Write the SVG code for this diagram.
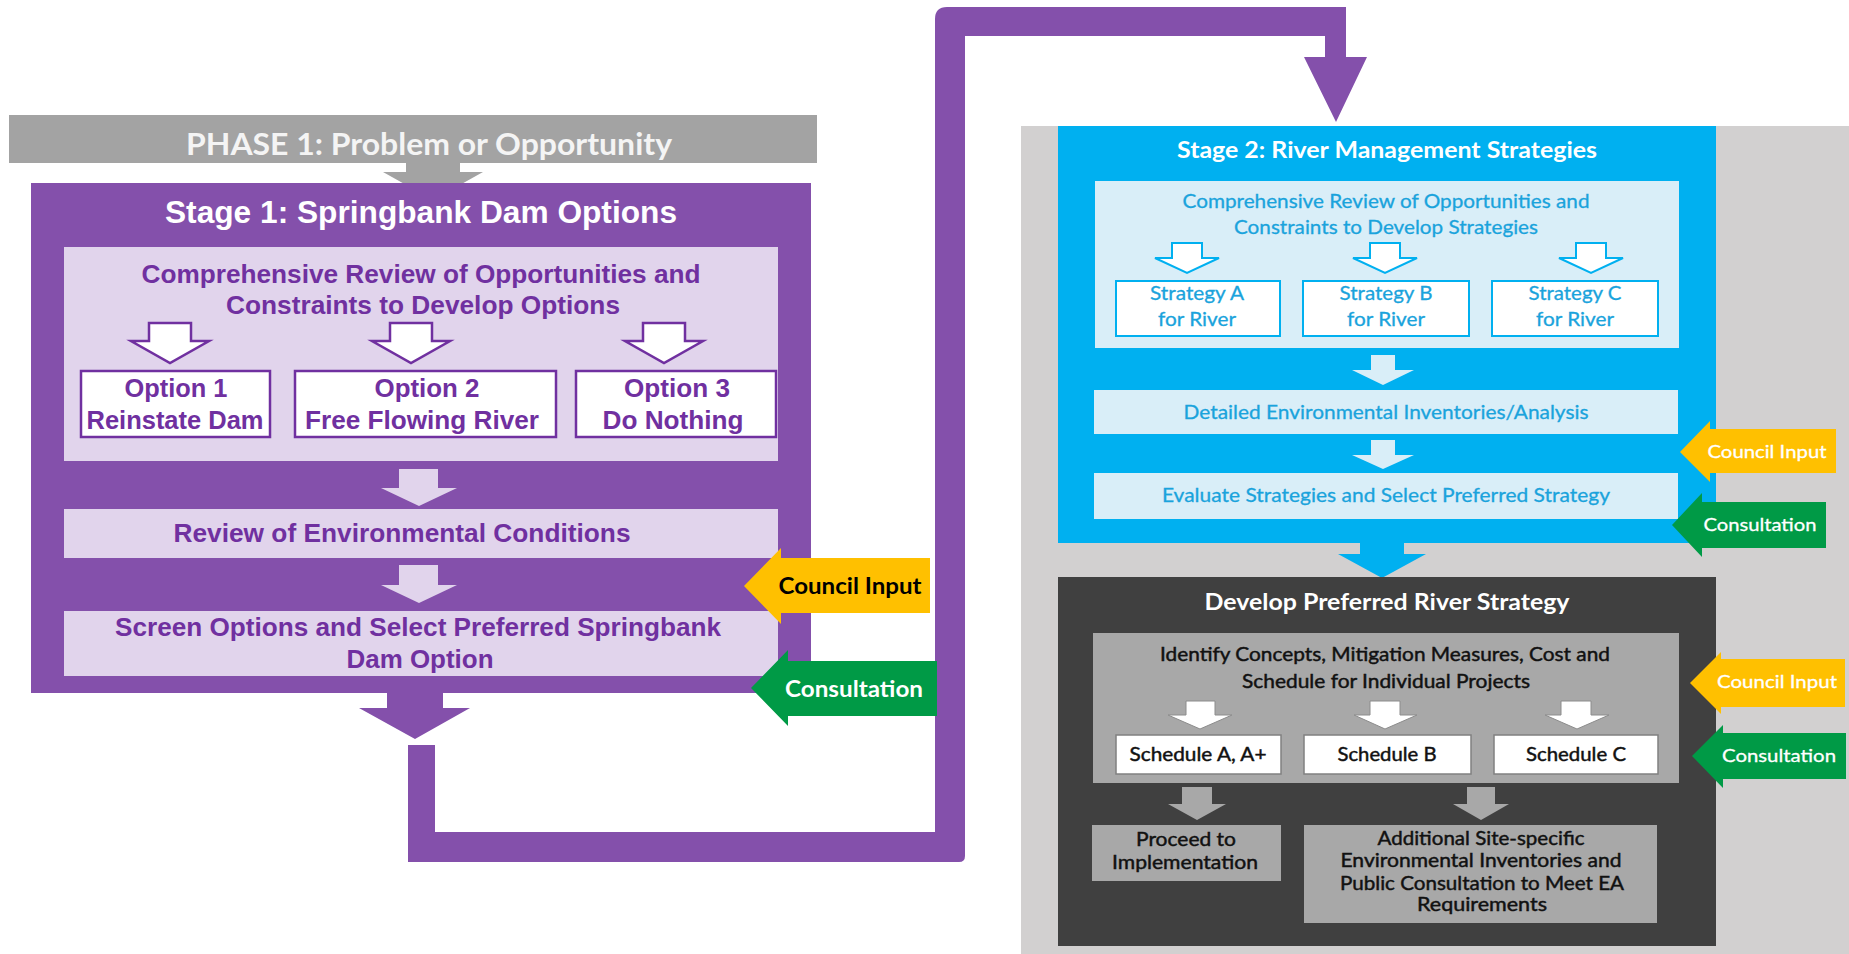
<svg xmlns="http://www.w3.org/2000/svg" width="1849" height="954" viewBox="0 0 1849 954">
<style>
.ar{font-family:"Liberation Sans",Arial,sans-serif;font-weight:bold;}
.ca{font-family:Lato,"Open Sans","Noto Sans",sans-serif;}
.b{font-weight:bold;}
.pt{fill:#7030A0;font-size:26px;}
.bt{fill:#1AA3DC;font-size:19px;stroke:#1AA3DC;stroke-width:0.3;}
.kt{fill:#111111;font-size:19px;stroke:#111111;stroke-width:0.45;}
.wt{fill:#FFFFFF;}
.ws{stroke:#FFFFFF;stroke-width:0.3;}
.purple{fill:#8450AB;}
.lav{fill:#E1D4EC;}
.optbox{fill:#FFFFFF;stroke:#7030A0;stroke-width:2.5;}
.optarr{fill:#FFFFFF;stroke:#7030A0;stroke-width:2.5;stroke-linejoin:miter;}
.blue{fill:#00B0F0;}
.lblue{fill:#D9EEF8;}
.stbox{fill:#FFFFFF;stroke:#00B0F0;stroke-width:2;}
.starr{fill:#FFFFFF;stroke:#00B0F0;stroke-width:2;}
.dark{fill:#404040;}
.mgray{fill:#A8A8A8;}
.schbox{fill:#FFFFFF;stroke:#808080;stroke-width:1.5;}
.scharr{fill:#FFFFFF;stroke:#8C8C8C;stroke-width:1;}
.yel{fill:#FFC000;}
.grn{fill:#009A46;}
</style>

<!-- right background -->
<rect id="right-bg" x="1021" y="126" width="828" height="828" fill="#D2D0D0"/>

<!-- Phase 1 bar -->
<g id="phase1">
  <rect x="9" y="115" width="808" height="48" fill="#A3A3A3"/>
  <text class="ca b" x="429" y="155" font-size="30" fill="#F4F4F4" text-anchor="middle" textLength="486" lengthAdjust="spacingAndGlyphs">PHASE 1: Problem or Opportunity</text>
</g>

<g id="connectors">
  <polygon points="406,163 460,163 460,172 483,172 433,200 383,172 406,172" fill="#A3A3A3"/>
  <path class="purple" d="M408,745 H435 V832 H935 V19 Q935,7 947,7 H1346 V57 H1367 L1336,122 L1304,57 H1325 V36 H965 V856 Q965,862 959,862 H408 Z"/>
</g>

<!-- Stage 1 -->
<g id="stage1">
  <rect class="purple" x="31" y="183" width="780" height="510"/>
  <text class="ar wt" x="421" y="223" font-size="32" text-anchor="middle" textLength="512" lengthAdjust="spacingAndGlyphs">Stage 1: Springbank Dam Options</text>
</g>

<g id="s1-review">
  <rect class="lav" x="64" y="247" width="714" height="214"/>
  <text class="ar pt" x="421" y="283" text-anchor="middle" textLength="559" lengthAdjust="spacingAndGlyphs">Comprehensive Review of Opportunities and</text>
  <text class="ar pt" x="423" y="314" text-anchor="middle" textLength="394" lengthAdjust="spacingAndGlyphs">Constraints to Develop Options</text>
  <polygon class="optarr" points="149,323 191,323 191,341 209,341 170,363 131,341 149,341"/>
  <polygon class="optarr" points="390,323 432,323 432,341 450,341 411,363 372,341 390,341"/>
  <polygon class="optarr" points="643,323 685,323 685,341 703,341 664,363 625,341 643,341"/>
</g>

<g id="option1">
  <rect class="optbox" x="81" y="371" width="189" height="66"/>
  <text class="ar pt" x="176" y="397" text-anchor="middle" textLength="103" lengthAdjust="spacingAndGlyphs">Option 1</text>
  <text class="ar pt" x="175" y="429" text-anchor="middle" textLength="177" lengthAdjust="spacingAndGlyphs">Reinstate Dam</text>
</g>
<g id="option2">
  <rect class="optbox" x="295" y="371" width="261" height="66"/>
  <text class="ar pt" x="427" y="397" text-anchor="middle" textLength="105" lengthAdjust="spacingAndGlyphs">Option 2</text>
  <text class="ar pt" x="422" y="429" text-anchor="middle" textLength="234" lengthAdjust="spacingAndGlyphs">Free Flowing River</text>
</g>
<g id="option3">
  <rect class="optbox" x="576" y="371" width="200" height="66"/>
  <text class="ar pt" x="677" y="397" text-anchor="middle" textLength="106" lengthAdjust="spacingAndGlyphs">Option 3</text>
  <text class="ar pt" x="673" y="429" text-anchor="middle" textLength="141" lengthAdjust="spacingAndGlyphs">Do Nothing</text>
</g>

<g id="s1-arrows">
  <polygon class="lav" points="399,469 438,469 438,488 457,488 419,506 381,488 399,488"/>
  <polygon class="lav" points="399,565 438,565 438,585 457,585 419,603 381,585 399,585"/>
</g>

<g id="s1-env">
  <rect class="lav" x="64" y="509" width="714" height="49"/>
  <text class="ar pt" x="402" y="542" text-anchor="middle" textLength="457" lengthAdjust="spacingAndGlyphs">Review of Environmental Conditions</text>
</g>

<g id="s1-screen">
  <rect class="lav" x="64" y="611" width="714" height="65"/>
  <text class="ar pt" x="418" y="636" text-anchor="middle" textLength="606" lengthAdjust="spacingAndGlyphs">Screen Options and Select Preferred Springbank</text>
  <text class="ar pt" x="420" y="668" text-anchor="middle" textLength="147" lengthAdjust="spacingAndGlyphs">Dam Option</text>
</g>

<g id="s1-out">
  <polygon class="purple" points="387,676 443,676 443,708 470,708 415,739 359,708 387,708"/>
</g>

<g id="council-left">
  <polygon class="yel" points="744,586 781,548 781,558 930,558 930,613 781,613 781,624"/>
  <text class="ca b" x="850" y="594" font-size="23" fill="#000000" text-anchor="middle" textLength="143" lengthAdjust="spacingAndGlyphs">Council Input</text>
</g>
<g id="consult-left">
  <polygon class="grn" points="751,688 788,650 788,661 937,661 937,716 788,716 788,726"/>
  <text class="ca b wt" x="854" y="697" font-size="22" text-anchor="middle" textLength="138" lengthAdjust="spacingAndGlyphs">Consultation</text>
</g>

<!-- Stage 2 -->
<g id="stage2">
  <rect class="blue" x="1058" y="126" width="658" height="417"/>
  <text class="ca b wt" x="1387" y="158" font-size="22" text-anchor="middle" textLength="420" lengthAdjust="spacingAndGlyphs">Stage 2: River Management Strategies</text>
</g>

<g id="s2-review">
  <rect class="lblue" x="1095" y="181" width="584" height="167"/>
  <text class="ca bt" x="1386" y="208" text-anchor="middle" textLength="407" lengthAdjust="spacingAndGlyphs">Comprehensive Review of Opportunities and</text>
  <text class="ca bt" x="1386" y="234" text-anchor="middle" textLength="304" lengthAdjust="spacingAndGlyphs">Constraints to Develop Strategies</text>
  <polygon class="starr" points="1172,243 1202,243 1202,258 1219,258 1187,273 1155,258 1172,258"/>
  <polygon class="starr" points="1370,243 1400,243 1400,258 1417,258 1385,273 1353,258 1370,258"/>
  <polygon class="starr" points="1576,243 1606,243 1606,258 1623,258 1591,273 1559,258 1576,258"/>
</g>

<g id="strategyA">
  <rect class="stbox" x="1116" y="281" width="164" height="55"/>
  <text class="ca bt" x="1197" y="300" text-anchor="middle" textLength="94" lengthAdjust="spacingAndGlyphs">Strategy A</text>
  <text class="ca bt" x="1197" y="326" text-anchor="middle" textLength="78" lengthAdjust="spacingAndGlyphs">for River</text>
</g>
<g id="strategyB">
  <rect class="stbox" x="1303" y="281" width="166" height="55"/>
  <text class="ca bt" x="1386" y="300" text-anchor="middle" textLength="93" lengthAdjust="spacingAndGlyphs">Strategy B</text>
  <text class="ca bt" x="1386" y="326" text-anchor="middle" textLength="78" lengthAdjust="spacingAndGlyphs">for River</text>
</g>
<g id="strategyC">
  <rect class="stbox" x="1492" y="281" width="166" height="55"/>
  <text class="ca bt" x="1575" y="300" text-anchor="middle" textLength="93" lengthAdjust="spacingAndGlyphs">Strategy C</text>
  <text class="ca bt" x="1575" y="326" text-anchor="middle" textLength="78" lengthAdjust="spacingAndGlyphs">for River</text>
</g>

<g id="s2-arrows">
  <polygon class="lblue" points="1371,355 1395,355 1395,370 1414,370 1383,385 1352,370 1371,370"/>
  <polygon class="lblue" points="1371,440 1395,440 1395,455 1414,455 1383,469 1352,455 1371,455"/>
</g>

<g id="s2-detailed">
  <rect class="lblue" x="1094" y="390" width="584" height="44"/>
  <text class="ca bt" x="1386" y="419" text-anchor="middle" textLength="405" lengthAdjust="spacingAndGlyphs">Detailed Environmental Inventories/Analysis</text>
</g>

<g id="s2-evaluate">
  <rect class="lblue" x="1094" y="473" width="584" height="46"/>
  <text class="ca bt" x="1386" y="502" text-anchor="middle" textLength="448" lengthAdjust="spacingAndGlyphs">Evaluate Strategies and Select Preferred Strategy</text>
</g>

<g id="s2-out">
  <polygon class="blue" points="1360,543 1404,543 1404,554 1426,554 1382,578 1338,554 1360,554"/>
</g>

<!-- Develop preferred -->
<g id="develop">
  <rect class="dark" x="1058" y="577" width="658" height="369"/>
  <text class="ca b wt" x="1387" y="610" font-size="22" text-anchor="middle" textLength="365" lengthAdjust="spacingAndGlyphs">Develop Preferred River Strategy</text>
</g>

<g id="dev-identify">
  <rect class="mgray" x="1093" y="633" width="586" height="150"/>
  <text class="ca kt" x="1385" y="661" text-anchor="middle" textLength="450" lengthAdjust="spacingAndGlyphs">Identify Concepts, Mitigation Measures, Cost and</text>
  <text class="ca kt" x="1386" y="688" text-anchor="middle" textLength="288" lengthAdjust="spacingAndGlyphs">Schedule for Individual Projects</text>
  <polygon class="scharr" points="1186,701 1215,701 1215,715 1232,715 1200,729 1168,715 1186,715"/>
  <polygon class="scharr" points="1370,701 1400,701 1400,715 1417,715 1385,729 1354,715 1370,715"/>
  <polygon class="scharr" points="1561,701 1591,701 1591,715 1609,715 1577,729 1545,715 1561,715"/>
</g>

<g id="scheduleA">
  <rect class="schbox" x="1116" y="735" width="165" height="39"/>
  <text class="ca kt" x="1198" y="761" text-anchor="middle" textLength="137" lengthAdjust="spacingAndGlyphs">Schedule A, A+</text>
</g>
<g id="scheduleB">
  <rect class="schbox" x="1304" y="735" width="167" height="39"/>
  <text class="ca kt" x="1387" y="761" text-anchor="middle" textLength="99" lengthAdjust="spacingAndGlyphs">Schedule B</text>
</g>
<g id="scheduleC">
  <rect class="schbox" x="1494" y="735" width="164" height="39"/>
  <text class="ca kt" x="1576" y="761" text-anchor="middle" textLength="100" lengthAdjust="spacingAndGlyphs">Schedule C</text>
</g>

<g id="dev-arrows">
  <polygon class="mgray" points="1182,787 1212,787 1212,804 1226,804 1197,820 1168,804 1182,804"/>
  <polygon class="mgray" points="1467,787 1495,787 1495,804 1509,804 1481,820 1453,804 1467,804"/>
</g>

<g id="proceed">
  <rect class="mgray" x="1092" y="825" width="189" height="56"/>
  <text class="ca kt" x="1186" y="846" text-anchor="middle" textLength="100" lengthAdjust="spacingAndGlyphs">Proceed to</text>
  <text class="ca kt" x="1185" y="869" text-anchor="middle" textLength="146" lengthAdjust="spacingAndGlyphs">Implementation</text>
</g>

<g id="additional">
  <rect class="mgray" x="1304" y="825" width="353" height="98"/>
  <text class="ca kt" x="1481" y="845" text-anchor="middle" textLength="207" lengthAdjust="spacingAndGlyphs">Additional Site-specific</text>
  <text class="ca kt" x="1481" y="867" text-anchor="middle" textLength="281" lengthAdjust="spacingAndGlyphs">Environmental Inventories and</text>
  <text class="ca kt" x="1482" y="890" text-anchor="middle" textLength="284" lengthAdjust="spacingAndGlyphs">Public Consultation to Meet EA</text>
  <text class="ca kt" x="1482" y="911" text-anchor="middle" textLength="130" lengthAdjust="spacingAndGlyphs">Requirements</text>
</g>

<g id="council-right1">
  <polygon class="yel" points="1680,452 1710,421 1710,429 1836,429 1836,473 1710,473 1710,482"/>
  <text class="ca wt ws" x="1767" y="458" font-size="18" text-anchor="middle" textLength="119" lengthAdjust="spacingAndGlyphs">Council Input</text>
</g>
<g id="consult-right1">
  <polygon class="grn" points="1672,525 1702,493 1702,502 1826,502 1826,548 1702,548 1702,557"/>
  <text class="ca wt ws" x="1760" y="531" font-size="18" text-anchor="middle" textLength="113" lengthAdjust="spacingAndGlyphs">Consultation</text>
</g>
<g id="council-right2">
  <polygon class="yel" points="1690,683 1721,652 1721,659 1845,659 1845,707 1721,707 1721,714"/>
  <text class="ca wt ws" x="1777" y="688" font-size="18" text-anchor="middle" textLength="120" lengthAdjust="spacingAndGlyphs">Council Input</text>
</g>
<g id="consult-right2">
  <polygon class="grn" points="1692,756 1723,725 1723,733 1846,733 1846,779 1723,779 1723,788"/>
  <text class="ca wt ws" x="1779" y="762" font-size="18" text-anchor="middle" textLength="114" lengthAdjust="spacingAndGlyphs">Consultation</text>
</g>
</svg>
